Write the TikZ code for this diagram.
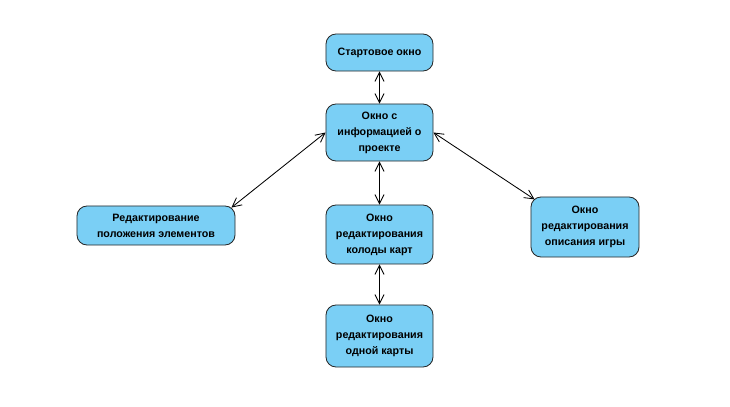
\documentclass[tikz,border=0pt]{standalone}
\usepackage{fontspec}
\setmainfont{Liberation Sans}
\usepackage{xcolor}
\usetikzlibrary{arrows.meta}
\definecolor{winblue}{RGB}{122,207,245}

\begin{document}
\begin{tikzpicture}[x=0.025cm,y=-0.025cm,
  win/.style={draw=black!85,line width=0.6pt,fill=winblue,rounded corners=0.25cm,
    align=center,inner sep=0pt,minimum width=2.675cm,
    font=\fontsize{7.6}{11.4}\selectfont\bfseries},
  link/.style={<->,>={Straight Barb[length=6.5pt,width=6.5pt]},line width=0.6pt}]
  \useasboundingbox(0,0)rectangle(730,407);
  \node[win,minimum height=0.925cm](start)at(379.5,52.5){Стартовое окно};
  \node[win,minimum height=1.425cm](info)at(379.5,132.5){Окно с\\информацией о\\проекте};
  \node[win,minimum height=0.975cm,minimum width=3.95cm](layout)at(156,225.5){Редактирование\\положения элементов};
  \node[win,minimum height=1.475cm](deck)at(379.5,234.5){Окно\\редактирования\\колоды карт};
  \node[win,minimum height=1.5cm,minimum width=2.7cm](descr)at(585,227){Окно\\редактирования\\описания игры};
  \node[win,minimum height=1.55cm](card)at(379.5,336){Окно\\редактирования\\одной карты};
  \draw[link](start)--(info);
  \draw[link](info)--(deck);
  \draw[link](deck)--(card);
  \draw[link](info.west)--([xshift=-0.1cm,yshift=-0.05cm]layout.north east);
  \draw[link](info.east)--([xshift=0.1cm,yshift=-0.07cm]descr.north west);
\end{tikzpicture}
\end{document}
